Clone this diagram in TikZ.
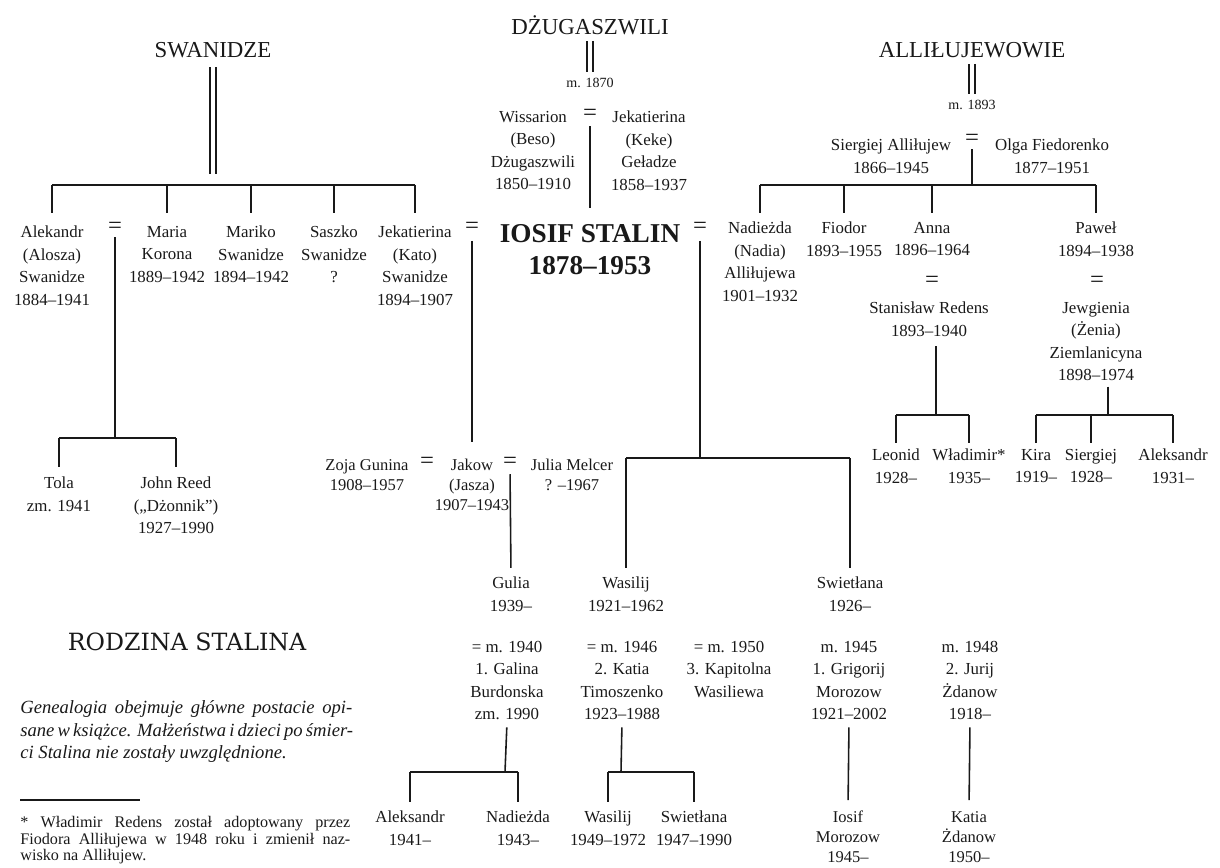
\documentclass[tikz,border=0pt]{standalone}
\usepackage{fontspec}
\setmainfont{Liberation Serif}
\newfontfamily\titlefont{DejaVu Serif}
\usetikzlibrary{positioning}

\begin{document}
\begin{tikzpicture}[x=0.02cm,y=-0.02cm,color=black!90,font=\fontsize{9.6}{12.8}\selectfont,
    pers/.style={align=center,anchor=north,inner sep=1pt},
    tight/.style={font=\fontsize{9.4}{11.4}\selectfont},
    eq/.style={font=\fontsize{14}{14}\selectfont,inner sep=1pt},
    fam/.style={font=\fontsize{13}{13}\selectfont},
    sm/.style={font=\fontsize{8}{9}\selectfont},
    ln/.style={line width=.9pt},
    drop/.style={ln,shorten >=4pt},
    dbl/.style={line width=.8pt,double,double distance=.09cm}]
  \useasboundingbox (0,0) rectangle (1220,868);
  % Swanidze
  \node[fam] (swan) at (213,50) {SWANIDZE};
  \coordinate (swbar) at (213,185);
  \node[pers] (aleks) at (52,224) {Alekandr\\(Alosza)\\Swanidze\\1884--1941};
  \node[eq] (eqA) at (115,228) {=};
  \node[pers] (maria) at (167,224) {Maria\\Korona\\1889--1942};
  \node[pers] (mariko) at (251,224) {Mariko\\Swanidze\\1894--1942};
  \node[pers] (saszko) at (334,224) {Saszko\\Swanidze\\?};
  \node[pers] (kato) at (415,224) {Jekatierina\\(Kato)\\Swanidze\\1894--1907};
  \draw[dbl,shorten <=2pt,shorten >=6.5pt] (swan.south) -- (swbar);
  \draw[ln] (aleks.north |- swbar) -- (kato.north |- swbar);
  \foreach \n in {aleks,maria,mariko,saszko,kato} \draw[drop,shorten >=6pt] (\n.north |- swbar) -- (\n.north);
  \coordinate (alebar) at (115,438);
  \node[pers] (tola) at (59,475) {Tola\\zm. 1941};
  \node[pers] (reed) at (176,475) {John Reed\\(„Dżonnik”)\\1927--1990};
  \draw[ln,shorten <=1pt] (eqA.south) -- (alebar);
  \draw[ln] (tola.north |- alebar) -- (reed.north |- alebar);
  \foreach \n in {tola,reed} \draw[drop,shorten >=4.5pt] (\n.north |- alebar) -- (\n.north);
  % Dzugaszwili
  \node[fam] (dzug) at (590,25) {DŻUGASZWILI};
  \node[sm] (m1870) at (590,83) {m. 1870};
  \draw[dbl] (dzug.south) -- (m1870.north);
  \node[pers] (beso) at (533,109) {Wissarion\\(Beso)\\Dżugaszwili\\1850--1910};
  \node[eq] (eqD) at (590,115) {=};
  \node[pers] (keke) at (649,109) {Jekatierina\\(Keke)\\Geładze\\1858--1937};
  \node[pers,font=\bfseries\fontsize{15.5}{18.7}\selectfont] (stalin) at (590,222) {IOSIF STALIN\\1878--1953};
  \draw[ln,shorten <=2pt,shorten >=8pt] (eqD.south) -- (stalin.north);
  \node[eq] (eqK) at (472,228) {=};
  \node[eq] (eqN) at (700,228) {=};
  % Jakow
  \node[pers,tight] (zoja) at (367,457) {Zoja Gunina\\1908--1957};
  \node[eq] (eqZ) at (427,463) {=};
  \node[pers,tight] (jakow) at (472,457) {Jakow\\(Jasza)\\1907--1943};
  \node[eq] (eqJ) at (510,463) {=};
  \node[pers,tight] (julia) at (572,457) {Julia Melcer\\? --1967};
  \draw[ln,shorten <=3pt,shorten >=8.5pt] (eqK.south) -- (jakow.north);
  \node[pers] (gulia) at (511,575) {Gulia\\1939--};
  \node[pers] (wasilij) at (626,575) {Wasilij\\1921--1962};
  \node[pers] (swietl) at (850,575) {Swietłana\\1926--};
  \draw[ln,shorten <=2pt,shorten >=4pt] (eqJ.south) -- (gulia.north);
  \coordinate (stbar) at (700,458);
  \draw[ln,shorten <=3pt] (eqN.south) -- (stbar);
  \draw[ln] (wasilij.north |- stbar) -- (swietl.north |- stbar);
  \foreach \n in {wasilij,swietl} \draw[drop] (\n.north |- stbar) -- (\n.north);
  % marriages of the grandchildren
  \node[pers] (galina) at (507,639) {= m. 1940\\1. Galina\\Burdonska\\zm. 1990};
  \node[pers] (katia) at (622,639) {= m. 1946\\2. Katia\\Timoszenko\\1923--1988};
  \node[pers] (kapit) at (729,639) {= m. 1950\\3. Kapitolna\\Wasiliewa};
  \node[pers] (grig) at (849,639) {m. 1945\\1. Grigorij\\Morozow\\1921--2002};
  \node[pers] (jurij) at (970,639) {m. 1948\\2. Jurij\\Żdanow\\1918--};
  \coordinate (gabar) at (505,772);
  \coordinate (kabar) at (621,772);
  \node[pers] (gAleks) at (410,809) {Aleksandr\\1941--};
  \node[pers] (gNadia) at (518,809) {Nadieżda\\1943--};
  \node[pers] (kWas) at (608,809) {Wasilij\\1949--1972};
  \node[pers] (kSwi) at (694,809) {Swietłana\\1947--1990};
  \node[pers,tight] (iosif) at (848,809) {Iosif\\Morozow\\1945--};
  \node[pers,tight] (katiaZ) at (969,809) {Katia\\Żdanow\\1950--};
  \draw[ln,shorten <=3pt] (galina.south) -- (gabar);
  \draw[ln,shorten <=3pt] (katia.south) -- (kabar);
  \draw[ln] (gAleks.north |- gabar) -- (gNadia.north |- gabar);
  \draw[ln] (kWas.north |- kabar) -- (kSwi.north |- kabar);
  \foreach \n in {gAleks,gNadia} \draw[drop] (\n.north |- gabar) -- (\n.north);
  \foreach \n in {kWas,kSwi} \draw[drop] (\n.north |- kabar) -- (\n.north);
  \draw[ln,shorten <=3pt,shorten >=5pt] (grig.south) -- (iosif.north);
  \draw[ln,shorten <=3pt,shorten >=5pt] (jurij.south) -- (katiaZ.north);
  % Allilujewowie
  \node[fam] (allil) at (972,50) {ALLIŁUJEWOWIE};
  \node[sm] (m1893) at (972,105) {m. 1893};
  \draw[dbl] (allil.south) -- (m1893.north);
  \node[pers] (siergiej) at (891,137) {Siergiej Alliłujew\\1866--1945};
  \node[eq] (eqS) at (972,140) {=};
  \node[pers] (olga) at (1052,137) {Olga Fiedorenko\\1877--1951};
  \coordinate (albar) at (972,185);
  \draw[ln,shorten <=1pt] (eqS.south) -- (albar);
  \node[pers] (nadia) at (760,220) {Nadieżda\\(Nadia)\\Alliłujewa\\1901--1932};
  \node[pers] (fiodor) at (844,220) {Fiodor\\1893--1955};
  \node[pers] (anna) at (932,220) {Anna\\1896--1964};
  \node[pers] (pawel) at (1096,220) {Paweł\\1894--1938};
  \draw[ln] (nadia.north |- albar) -- (pawel.north |- albar);
  \foreach \n in {nadia,fiodor,anna,pawel} \draw[drop] (\n.north |- albar) -- (\n.north);
  \node[eq] (eqAn) at (932,282) {=};
  \node[eq] (eqPa) at (1097,282) {=};
  \node[pers] (redens) at (929,300) {Stanisław Redens\\1893--1940};
  \node[pers] (jewg) at (1096,300) {Jewgienia\\(Żenia)\\Ziemlanicyna\\1898--1974};
  \coordinate (rebar) at (936,415);
  \coordinate (pabar) at (1108,415);
  \draw[ln,shorten <=4.5pt] (redens.south -| rebar) -- (rebar);
  \draw[ln,shorten <=2pt] (jewg.south -| pabar) -- (pabar);
  \node[pers] (leonid) at (896,447) {Leonid\\1928--};
  \node[pers] (wladimir) at (969,447) {Władimir*\\1935--};
  \node[pers] (kira) at (1036,447) {Kira\\1919--};
  \node[pers] (sierg2) at (1091,447) {Siergiej\\1928--};
  \node[pers] (alek2) at (1173,447) {Aleksandr\\1931--};
  \draw[ln] (leonid.north |- rebar) -- (wladimir.north |- rebar);
  \draw[ln] (kira.north |- pabar) -- (alek2.north |- pabar);
  \foreach \n in {leonid,wladimir} \draw[drop,shorten >=2pt] (\n.north |- rebar) -- (\n.north);
  \foreach \n in {kira,sierg2,alek2} \draw[drop,shorten >=2pt] (\n.north |- pabar) -- (\n.north);
  % legend
  \node[font=\titlefont\fontsize{13.5}{14}\selectfont] (title) at (187,642) {RODZINA STALINA};
  \node[anchor=north west,align=left,inner sep=0,font=\itshape\fontsize{10.6}{13}\selectfont] (note) at (20,700)
    {\makebox[6.64cm][s]{Genealogia obejmuje główne postacie opi-}\\
     \makebox[6.64cm][s]{sane w książce. Małżeństwa i dzieci po śmier-}\\
     ci Stalina nie zostały uwzględnione.};
  \coordinate (fnrule) at (20,800);
  \draw[line width=1pt] (fnrule) -- ++(120,0);
  \node[anchor=north west,align=left,inner sep=0,font=\fontsize{9.2}{9.4}\selectfont] (fn) at (20,816)
    {\makebox[6.6cm][s]{* Władimir Redens został adoptowany przez}\\
     \makebox[6.6cm][s]{Fiodora Alliłujewa w 1948 roku i zmienił naz-}\\
     wisko na Alliłujew.};
\end{tikzpicture}
\end{document}
